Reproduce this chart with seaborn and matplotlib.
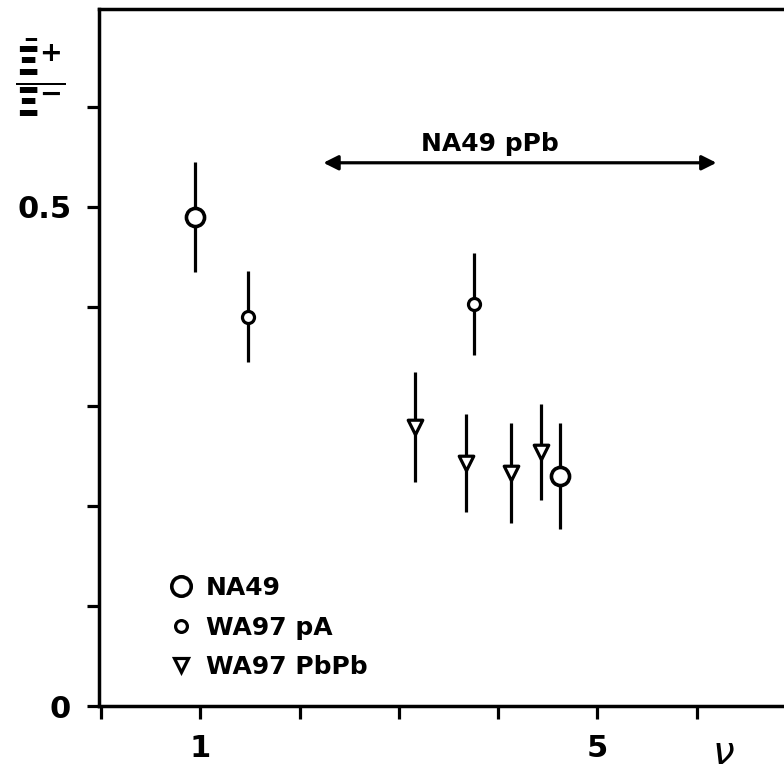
import matplotlib
matplotlib.use("Agg")
import matplotlib.pyplot as plt
from matplotlib.lines import Line2D
import seaborn as sns
import numpy as np

# ---- data ----
na49_x = [0.95, 4.62]
na49_y = [0.490, 0.230]
na49_err = [0.055, 0.053]

wa97pa_x = [1.48, 3.76]
wa97pa_y = [0.390, 0.403]
wa97pa_err = [0.046, 0.051]

wa97pbpb_x = [3.16, 3.68, 4.13, 4.43]
wa97pbpb_y = [0.279, 0.243, 0.233, 0.254]
wa97pbpb_err = [0.055, 0.049, 0.050, 0.048]

series_labels = ["NA49", "WA97 pA", "WA97 PbPb"]
arrow_range = [2.24, 6.20]
arrow_y = 0.544
arrow_label = "NA49 pPb"

x_ticks = [0, 1, 2, 3, 4, 5, 6]
x_ticklabels = ["", "1", "", "", "", "5", ""]
y_ticks = [0, 0.1, 0.2, 0.3, 0.4, 0.5, 0.6]
y_ticklabels = ["0", "", "", "", "", "0.5", ""]

sns.set_style("ticks", {"axes.edgecolor": "black", "text.color": "black",
                        "xtick.color": "black", "ytick.color": "black",
                        "axes.labelcolor": "black"})
plt.rcParams['font.family'] = ['DejaVu Sans']
plt.rcParams['mathtext.fontset'] = 'dejavusans'

W, H = 784, 774
fig = plt.figure(figsize=(W / 100, H / 100), dpi=100)
ax = fig.add_axes([99 / W, (H - 706) / H, (W - 99) / W, (706 - 9) / H])

lw = 2.3
# error bars
for xs, ys, es in [(na49_x, na49_y, na49_err), (wa97pa_x, wa97pa_y, wa97pa_err),
                   (wa97pbpb_x, wa97pbpb_y, wa97pbpb_err)]:
    ax.errorbar(xs, ys, yerr=es, fmt='none', ecolor='black', elinewidth=lw,
                capsize=0, zorder=2)

sns.scatterplot(x=na49_x, y=na49_y, marker='o', s=170, facecolor='white',
                edgecolor='black', linewidth=2.6, zorder=3, ax=ax)
sns.scatterplot(x=wa97pa_x, y=wa97pa_y, marker='o', s=75, facecolor='white',
                edgecolor='black', linewidth=2.3, zorder=3, ax=ax)
sns.scatterplot(x=wa97pbpb_x, y=wa97pbpb_y, marker='v', s=110, facecolor='white',
                edgecolor='black', linewidth=2.3, zorder=3, ax=ax)

# arrow + label
ax.annotate('', xy=(arrow_range[0], arrow_y), xytext=(arrow_range[1], arrow_y),
            arrowprops=dict(arrowstyle='<|-|>', lw=lw, color='black',
                            mutation_scale=22, shrinkA=0, shrinkB=0))
ax.text(3.92, arrow_y + 0.007, arrow_label, ha='center', va='bottom',
        fontsize=18, fontweight='bold', color='black')

ax.set_xlim(-0.02, 6.88)
ax.set_ylim(0, 0.698)
ax.set_xticks(x_ticks)
ax.set_xticklabels(x_ticklabels)
ax.set_yticks(y_ticks)
ax.set_yticklabels(y_ticklabels)
ax.tick_params(axis='both', direction='out', length=9, width=2.3,
               labelsize=22, pad=11, colors='black')
for t in ax.get_xticklabels() + ax.get_yticklabels():
    t.set_fontweight('bold')
for s in ['left', 'bottom', 'top']:
    ax.spines[s].set_linewidth(2.5)
    ax.spines[s].set_color('black')
ax.spines['right'].set_visible(False)

# legend
handles = [
    Line2D([], [], marker='o', ms=14, mfc='white', mec='black', mew=2.6, ls='none'),
    Line2D([], [], marker='o', ms=8.5, mfc='white', mec='black', mew=2.3, ls='none'),
    Line2D([], [], marker='v', ms=10, mfc='white', mec='black', mew=2.3, ls='none'),
]
leg = ax.legend(handles, series_labels, loc='upper left',
                bbox_to_anchor=((168 - 99) / (W - 99), (706 - 576) / (706 - 9)),
                frameon=False, prop={'size': 18, 'weight': 'bold'},
                handlelength=1.0, handletextpad=0.5, labelspacing=0.62,
                borderpad=0, borderaxespad=0)
for t in leg.get_texts():
    t.set_color('black')

# axis labels
fig.text(723 / W, 1 - 753 / H, r'$\nu$', ha='center', va='center', fontsize=28,
         color='black')
fig.text(40 / W, 1 - 78 / H, r'$\dfrac{\bar{\mathbf{\Xi}}^{\mathbf{+}}}{\mathbf{\Xi}^{\mathbf{-}}}$',
         ha='center', va='center', fontsize=28, color='black')

fig.savefig('out.png', dpi=100)
